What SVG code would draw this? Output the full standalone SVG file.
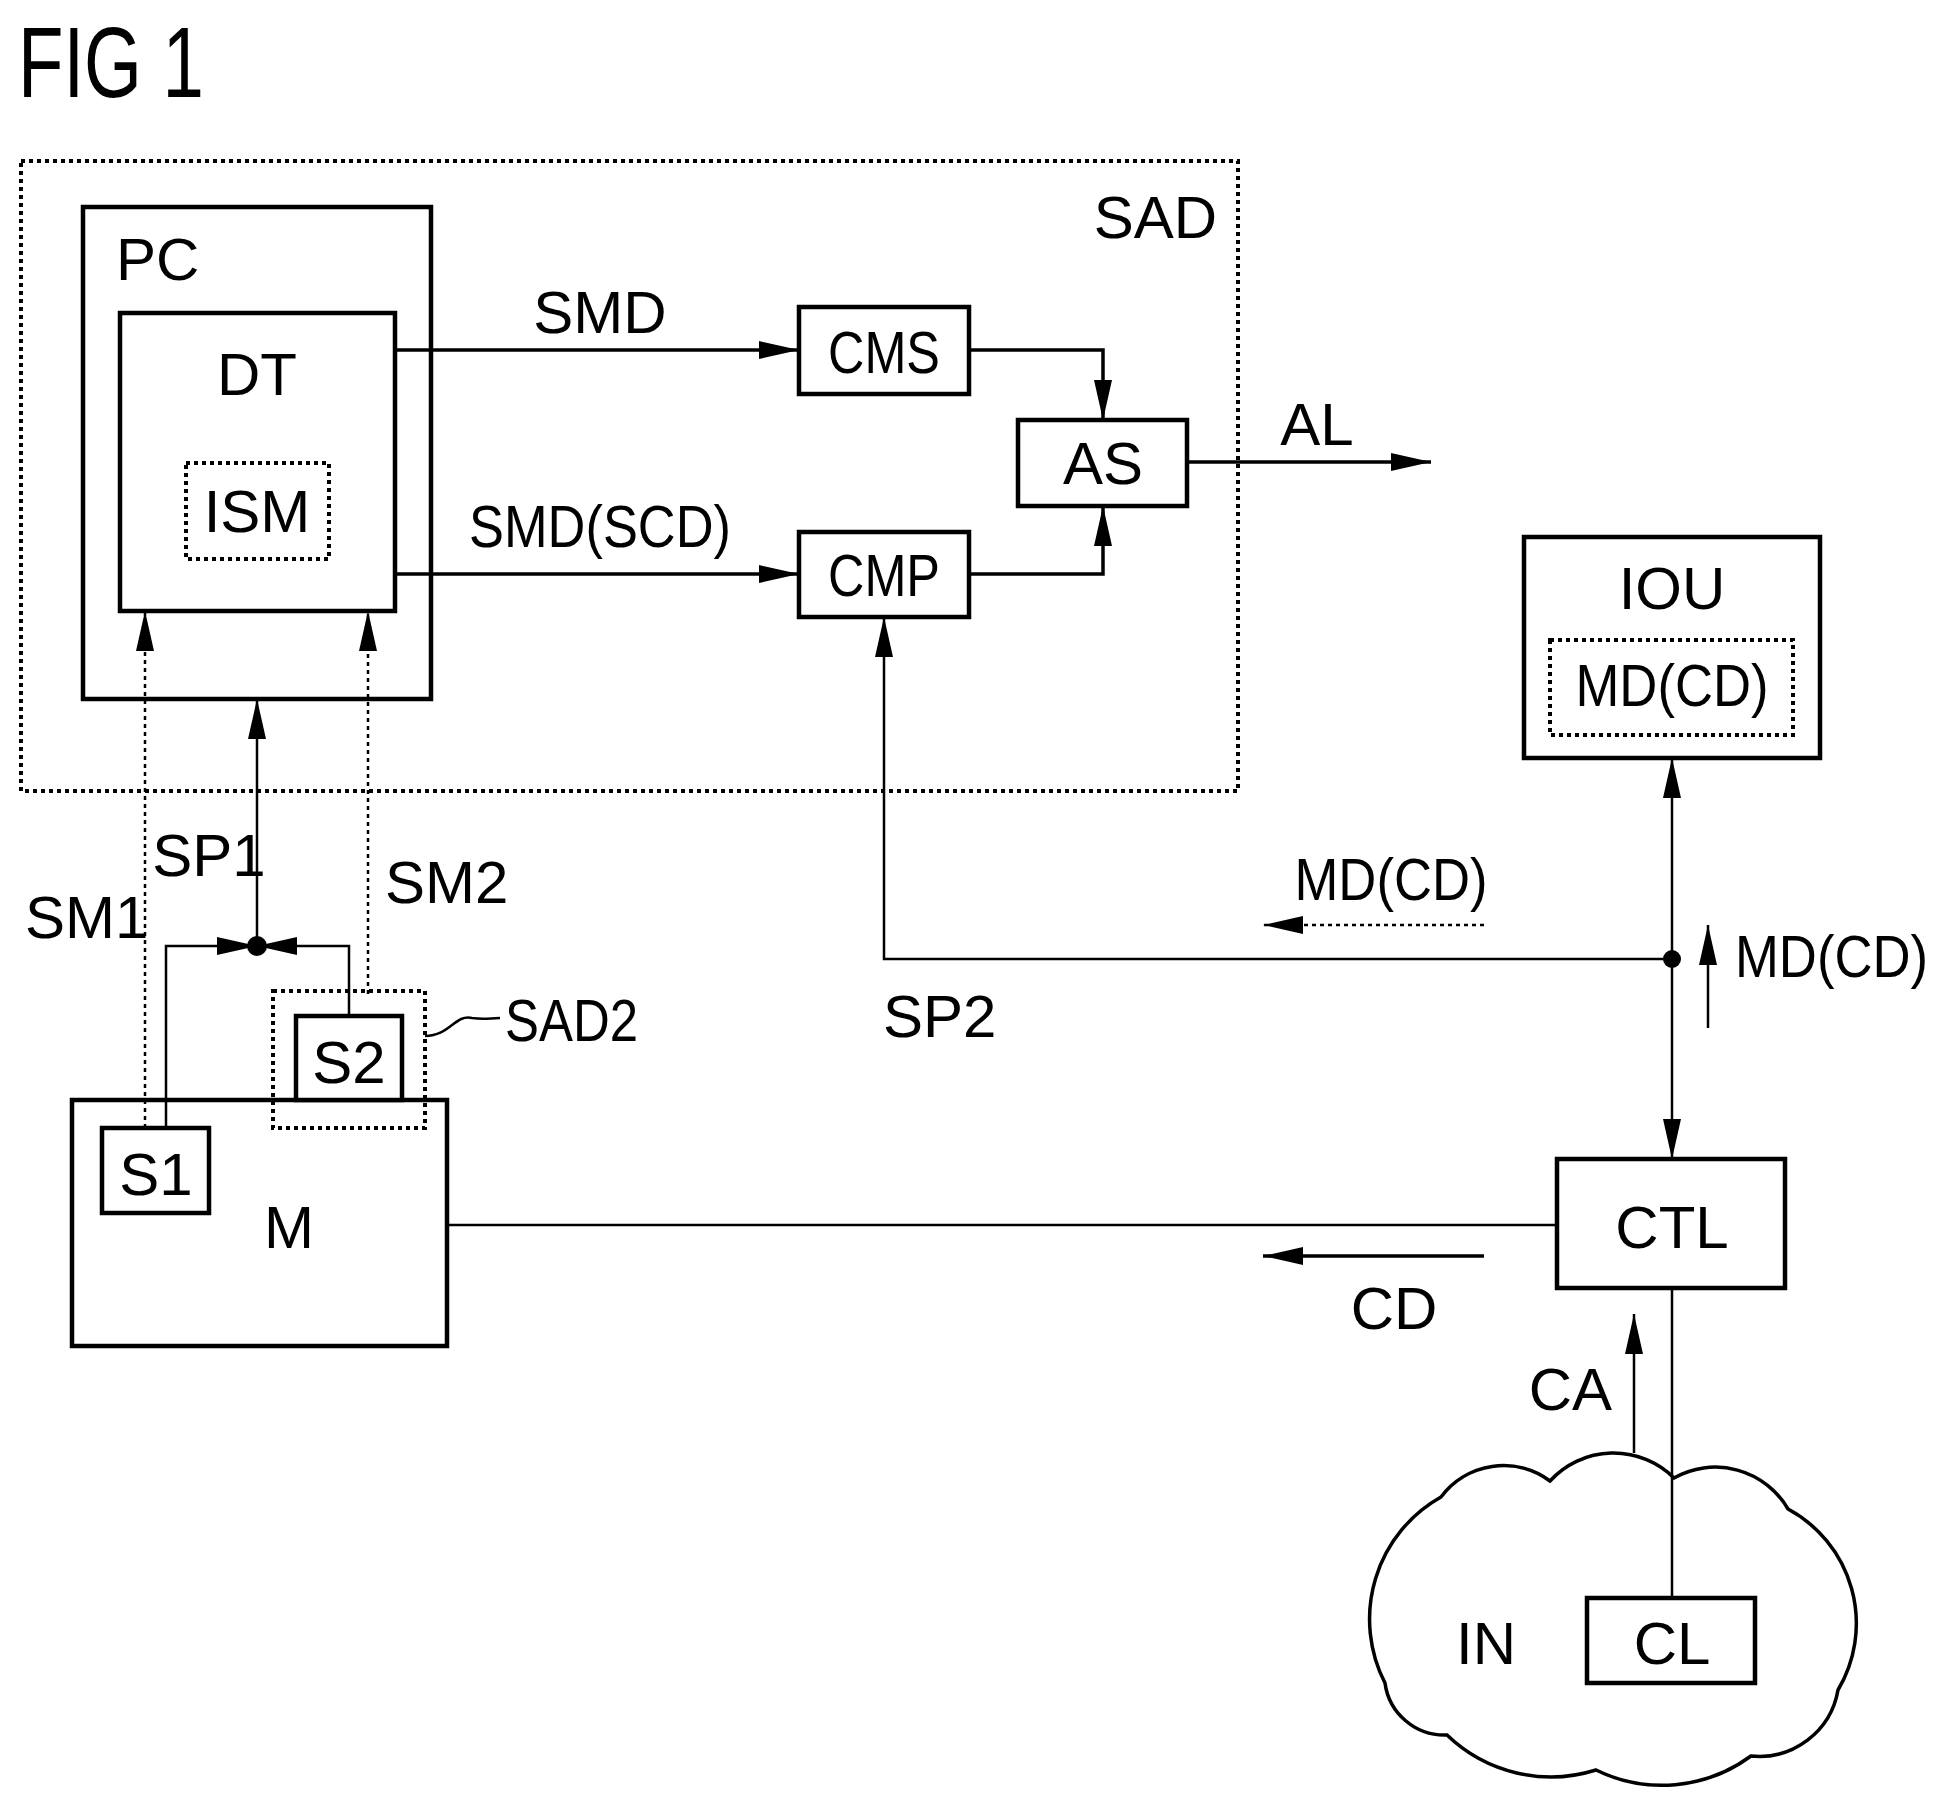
<svg xmlns="http://www.w3.org/2000/svg" width="1938" height="1806" viewBox="0 0 1938 1806">
<style>
text{font-family:"Liberation Sans",Arial,sans-serif;font-size:60px;fill:#000}
.b{fill:#fff;stroke:#000;stroke-width:4.5}
.d{fill:none;stroke:#000;stroke-width:4;stroke-dasharray:4 4}
.l{fill:none;stroke:#000;stroke-width:3.5}
.t{fill:none;stroke:#000;stroke-width:2.5}
.dl{fill:none;stroke:#000;stroke-width:2.5;stroke-dasharray:4 4}
.m{text-anchor:middle}
</style>
<defs>
<marker id="a" markerUnits="userSpaceOnUse" markerWidth="42" markerHeight="24" refX="40" refY="12" orient="auto"><path d="M0,3 L40,12 L0,21 Z" fill="#000"/></marker>
</defs>
<rect width="1938" height="1806" fill="#fff"/>
<text x="18" y="97" style="font-size:100px" textLength="186" lengthAdjust="spacingAndGlyphs">FIG 1</text>
<g id="SAD"><rect class="d" x="21" y="161" width="1217" height="630"/><text x="1217" y="238" text-anchor="end">SAD</text></g>
<g id="PC"><rect class="b" x="83" y="207" width="348" height="492"/><text x="116" y="280">PC</text></g>
<g id="DT"><rect class="b" x="120" y="313" width="275" height="298"/><text class="m" x="257" y="395">DT</text></g>
<g id="ISM"><rect class="d" x="186" y="463" width="143" height="96"/><text class="m" x="257" y="532">ISM</text></g>
<g id="CMS"><rect class="b" x="799" y="307" width="170" height="87"/><text class="m" x="884" y="373" textLength="112" lengthAdjust="spacingAndGlyphs">CMS</text></g>
<g id="CMP"><rect class="b" x="799" y="532" width="170" height="85"/><text class="m" x="884" y="596" textLength="112" lengthAdjust="spacingAndGlyphs">CMP</text></g>
<g id="AS"><rect class="b" x="1018" y="420" width="169" height="86"/><text class="m" x="1103" y="484">AS</text></g>
<g id="IOU"><rect class="b" x="1524" y="537" width="296" height="221"/><text class="m" x="1672" y="609">IOU</text><rect class="d" x="1550" y="640" width="243" height="95"/><text class="m" x="1672" y="706" textLength="193" lengthAdjust="spacingAndGlyphs">MD(CD)</text></g>
<g id="CTL"><rect class="b" x="1557" y="1159" width="228" height="129"/><text class="m" x="1672" y="1248">CTL</text></g>
<g id="M"><rect class="b" x="72" y="1100" width="375" height="246"/><text class="m" x="289" y="1248">M</text></g>
<g id="S1"><rect class="b" x="102" y="1128" width="107" height="85"/><text class="m" x="156" y="1195">S1</text></g>
<g id="S2"><rect class="b" x="296" y="1016" width="106" height="84"/><text class="m" x="349" y="1083">S2</text></g>
<g id="SAD2"><rect class="d" x="273" y="991" width="152" height="137"/><path class="t" d="M425,1036 C450,1036 455,1014 472,1018 C485,1020 490,1018 500,1018"/><text x="505" y="1041" textLength="133" lengthAdjust="spacingAndGlyphs">SAD2</text></g>
<g id="IN"><path class="l" d="M1385,1683 A140,140 0 0 1 1441,1497 A78,78 0 0 1 1550,1481 A86,86 0 0 1 1674,1478 A84,84 0 0 1 1788,1509 A130,130 0 0 1 1838,1690 A80,80 0 0 1 1751,1756 A150,150 0 0 1 1596,1770 A150,150 0 0 1 1447,1735 A60,60 0 0 1 1385,1683 Z" fill="#fff"/><text class="m" x="1486" y="1664">IN</text></g>
<g id="CL"><rect class="b" x="1587" y="1598" width="168" height="85"/><text class="m" x="1672" y="1664">CL</text></g>
<g id="connectors">
<path class="l" d="M395,350 H799" marker-end="url(#a)"/>
<path class="l" d="M395,574 H799" marker-end="url(#a)"/>
<path class="l" d="M969,350 H1103 V420" marker-end="url(#a)"/>
<path class="l" d="M969,574 H1103 V506" marker-end="url(#a)"/>
<path class="l" d="M1187,462 H1431" marker-end="url(#a)"/>
<path class="t" d="M1672,959 H884 V617" marker-end="url(#a)"/>
<path class="t" d="M1672,959 V758" marker-end="url(#a)"/>
<path class="t" d="M1672,959 V1159" marker-end="url(#a)"/>
<circle cx="1672" cy="959" r="9"/>
<path class="dl" d="M1484,925 H1263" marker-end="url(#a)"/>
<path class="t" d="M1708,1028 V925" marker-end="url(#a)"/>
<path class="t" d="M447,1225 H1557"/>
<path class="l" d="M1484,1256 H1263" marker-end="url(#a)"/>
<path class="t" d="M1634,1453 V1314" marker-end="url(#a)"/>
<path class="t" d="M1672,1288 V1598"/>
<path class="t" d="M257,946 V699" marker-end="url(#a)"/>
<path class="t" d="M166,1128 V946 H257" marker-end="url(#a)"/>
<path class="t" d="M349,1016 V946 H257" marker-end="url(#a)"/>
<circle cx="257" cy="946" r="10"/>
<path class="dl" d="M145,1128 V611" marker-end="url(#a)"/>
<path class="dl" d="M368,994 V611" marker-end="url(#a)"/>
</g>
<text class="m" x="600" y="333">SMD</text>
<text class="m" x="600" y="547" textLength="262" lengthAdjust="spacingAndGlyphs">SMD(SCD)</text>
<text class="m" x="1317" y="445">AL</text>
<text class="m" x="1391" y="900" textLength="193" lengthAdjust="spacingAndGlyphs">MD(CD)</text>
<text x="1735" y="977" textLength="193" lengthAdjust="spacingAndGlyphs">MD(CD)</text>
<text x="883" y="1037">SP2</text>
<text class="m" x="1394" y="1329">CD</text>
<text x="1612" y="1410" text-anchor="end">CA</text>
<text class="m" x="209" y="876">SP1</text>
<text x="385" y="903">SM2</text>
<text x="25" y="938">SM1</text>
</svg>
